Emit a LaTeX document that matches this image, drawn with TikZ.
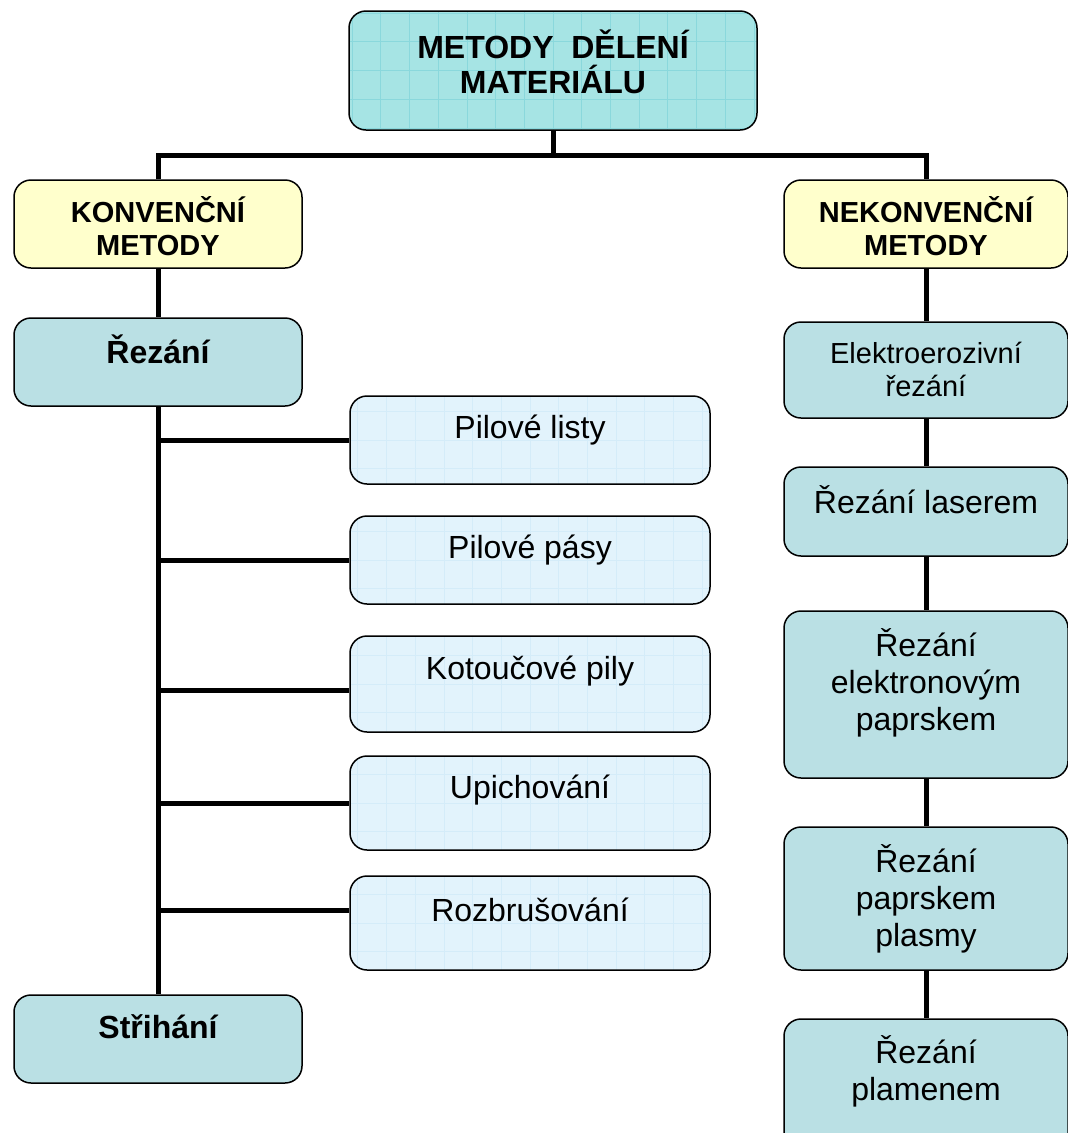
\documentclass[tikz,border=0pt]{standalone}
\usepackage{fontspec}
\setmainfont{Liberation Sans}
\definecolor{topfill}{RGB}{166,228,228}
\definecolor{topgrid}{RGB}{138,216,220}
\definecolor{yelfill}{RGB}{255,255,204}
\definecolor{tealfill}{RGB}{186,224,228}
\definecolor{ltfill}{RGB}{226,243,252}
\definecolor{ltgrid}{RGB}{212,236,249}
\begin{document}
\begin{tikzpicture}[x=1pt,y=-1pt,
  box/.style={draw=black, line width=1.5pt, rounded corners=17pt, inner sep=0pt},
  gridded/.style={path picture={\draw[#1, line width=0.7pt]
      (path picture bounding box.south west) grid[step=28.7pt] (path picture bounding box.north east);}},
  topbox/.style={box, fill=topfill, gridded=topgrid},
  yelbox/.style={box, fill=yelfill},
  tealbox/.style={box, fill=tealfill},
  ltbox/.style={box, fill=ltfill, gridded=ltgrid},
  conn/.style={line width=5pt, line cap=butt},
  bigb/.style={align=center, font=\fontsize{32}{35}\selectfont\bfseries, inner sep=0pt},
  midb/.style={align=center, font=\fontsize{29}{33}\selectfont\bfseries, inner sep=0pt},
  reg/.style={align=center, font=\fontsize{32}{37}\selectfont, inner sep=0pt},
  regs/.style={align=center, font=\fontsize{29}{33}\selectfont, inner sep=0pt}
]
\useasboundingbox (0,0) rectangle (1068,1133);
\clip (0,0) rectangle (1068,1133);
\fill[white] (0,0) rectangle (1068,1133);

% boxes
\node[topbox, minimum width=408pt, minimum height=119pt] (top) at (553,70.5) {};
\node[yelbox, minimum width=288pt, minimum height=88pt] (konv) at (158,224) {};
\node[yelbox, minimum width=284pt, minimum height=88pt] (nekonv) at (926,224) {};
\node[tealbox, minimum width=288pt, minimum height=88pt] (rez) at (158,362) {};
\node[tealbox, minimum width=288pt, minimum height=88pt] (stri) at (158,1039) {};

\node[ltbox, minimum width=360pt, minimum height=88pt] (pl) at (530,440) {};
\node[ltbox, minimum width=360pt, minimum height=88pt] (pp) at (530,560) {};
\node[ltbox, minimum width=360pt, minimum height=96pt] (kp) at (530,684) {};
\node[ltbox, minimum width=360pt, minimum height=94pt] (up) at (530,803) {};
\node[ltbox, minimum width=360pt, minimum height=94pt] (rb) at (530,923) {};

\node[tealbox, minimum width=284pt, minimum height=96pt] (ee) at (926,370) {};
\node[tealbox, minimum width=284pt, minimum height=89pt] (las) at (926,511.5) {};
\node[tealbox, minimum width=284pt, minimum height=167pt] (eln) at (926,694.5) {};
\node[tealbox, minimum width=284pt, minimum height=143pt] (pla) at (926,898.5) {};
\node[tealbox, minimum width=284pt, minimum height=141pt] (plm) at (926,1089.5) {};

% texts
\node[bigb] (t-top) at (553,62) {METODY\ \ DĚLENÍ\\MATERIÁLU};
\node[midb] (t-konv) at (158,226) {KONVENČNÍ\\METODY};
\node[midb] (t-nekonv) at (926,226) {NEKONVENČNÍ\\METODY};
\node[bigb] (t-rez) at (158,349) {Řezání};
\node[bigb] (t-stri) at (158,1027) {Střihání};

\node[reg] (t-pl) at (530,430) {Pilové listy};
\node[reg] (t-pp) at (530,550) {Pilové pásy};
\node[reg] (t-kp) at (530,671) {Kotoučové pily};
\node[reg] (t-up) at (530,790) {Upichování};
\node[reg] (t-rb) at (530,910) {Rozbrušování};

\node[regs] (t-ee) at (926,369) {Elektroerozivní\\řezání};
\node[reg] (t-las) at (926,500) {Řezání laserem};
\node[reg] (t-eln) at (926,683) {Řezání\\elektronovým\\paprskem};
\node[reg] (t-pla) at (926,899) {Řezání\\paprskem\\plasmy};
\node[reg] (t-plm) at (926,1071) {Řezání\\plamenem};

% connectors
\coordinate (hub) at (553,155);
\coordinate (kpj) at ([yshift=-6pt]kp.west);
\coordinate (rbj) at ([yshift=13pt]rb.west);
\draw[conn] (top.south) -- (hub);
\draw[conn] (konv.north) |- (hub) -| (nekonv.north);
\draw[conn] (konv.south) -- (rez.north);
\draw[conn] (rez.south) -- (stri.north);
\draw[conn] (rez.south |- pl.west) -- (pl.west);
\draw[conn] (rez.south |- pp.west) -- (pp.west);
\draw[conn] (rez.south |- kpj) -- (kpj);
\draw[conn] (rez.south |- up.west) -- (up.west);
\draw[conn] (rez.south |- rbj) -- (rbj);

\draw[conn] (nekonv.south) -- (ee.north);
\draw[conn] (ee.south) -- (las.north);
\draw[conn] (las.south) -- (eln.north);
\draw[conn] (eln.south) -- (pla.north);
\draw[conn] (pla.south) -- (plm.north);
\end{tikzpicture}
\end{document}
